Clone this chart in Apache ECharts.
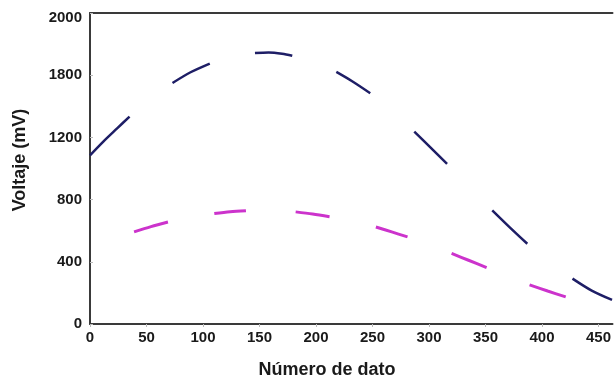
<!DOCTYPE html>
<html>
<head>
<meta charset="utf-8">
<script src="https://cdn.jsdelivr.net/npm/echarts@6/dist/echarts.min.js"></script>
<style>
  html, body { margin: 0; padding: 0; background: #fff; }
  #chart { width: 614px; height: 379px; }
</style>
</head>
<body>
<div id="chart"></div>
<script>
// Sampled bursts of the two voltage signals: [data number, voltage in mV]
const signalA = [
  [[0, 1085], [12, 1175], [24, 1258], [35, 1334]],
  [[73, 1550], [89, 1619], [106, 1675]],
  [[146, 1742], [158, 1746], [170, 1738], [179, 1725]],
  [[218, 1621], [232, 1561], [248, 1484]],
  [[287, 1237], [301, 1137], [316, 1030]],
  [[356, 731], [371, 625], [387, 516]],
  [[427, 292], [444, 215], [462, 155]]
];
const signalB = [
  [[39, 592], [54, 626], [69, 656]],
  [[110, 710], [124, 722], [138, 729]],
  [[182, 721], [197, 707], [212, 690]],
  [[253, 624], [267, 592], [281, 560]],
  [[320, 454], [335, 410], [351, 363]],
  [[389, 252], [405, 212], [421, 174]]
];

// Axis tick values and the text printed at each of them
const yTickValues = [0, 400, 800, 1200, 1600, 2000];
const yTickLabels = ['0', '400', '800', '1200', '1800', '2000'];
const xTickValues = [0, 50, 100, 150, 200, 250, 300, 350, 400, 450];
const xMax = 462.4;

const xTitle = 'Número de dato';
const yTitle = 'Voltaje (mV)';

// Join bursts into one series, leaving an empty point between bursts
function joinBursts(bursts) {
  const out = [];
  bursts.forEach(function (b, i) {
    if (i > 0) out.push([(bursts[i - 1][bursts[i - 1].length - 1][0] + b[0][0]) / 2, null]);
    b.forEach(function (p) { out.push(p); });
  });
  return out;
}

const chart = echarts.init(document.getElementById('chart'), null, { renderer: 'canvas' });
const labelFont = { fontFamily: 'Liberation Sans, Arial, sans-serif', fontWeight: 'bold', fontSize: 15, color: '#1a1a1a' };
const frameLine = { color: '#3a3a3a', width: 2 };

chart.setOption({
  backgroundColor: '#ffffff',
  animation: false,
  grid: { left: 90, top: 13, bottom: 55, right: 0, show: false },
  xAxis: [
    {
      type: 'value', min: 0, max: xMax,
      axisLine: { show: true, onZero: false, lineStyle: frameLine },
      axisTick: { show: true, inside: false, length: 3, customValues: xTickValues, lineStyle: { color: '#bbbbbb' } },
      splitLine: { show: false },
      axisLabel: Object.assign({ margin: 6, customValues: xTickValues, formatter: function (v) { return String(v); } }, labelFont)
    },
    {
      // top edge of the frame
      type: 'value', position: 'top', min: 0, max: xMax,
      axisLine: { show: true, onZero: false, lineStyle: frameLine },
      axisTick: { show: false }, axisLabel: { show: false }, splitLine: { show: false }
    }
  ],
  yAxis: {
    type: 'value', min: 0, max: 2000, interval: 400,
    axisLine: { show: true, onZero: false, lineStyle: frameLine },
    axisTick: { show: true, inside: true, length: 3, lineStyle: { color: '#bbbbbb' } },
    splitLine: { show: false },
    axisLabel: Object.assign({
      margin: 8,
      formatter: function (v) {
        const i = yTickValues.indexOf(v);
        if (i < 0) return '';
        return i === yTickValues.length - 1 ? '{top|' + yTickLabels[i] + '}' : yTickLabels[i];
      },
      rich: { top: Object.assign({ padding: [9, 0, 0, 0] }, labelFont) }
    }, labelFont)
  },
  graphic: [
    {
      type: 'text', x: 327, y: 370,
      style: { text: xTitle, font: 'bold 18px "Liberation Sans", Arial, sans-serif', fill: '#1a1a1a', align: 'center', verticalAlign: 'middle' }
    },
    {
      type: 'text', x: 20, y: 160, rotation: Math.PI / 2,
      style: { text: yTitle, font: 'bold 18px "Liberation Sans", Arial, sans-serif', fill: '#1a1a1a', align: 'center', verticalAlign: 'middle' }
    }
  ],
  series: [
    {
      name: 'A', type: 'line', data: joinBursts(signalA), smooth: 0.3, connectNulls: false,
      showSymbol: false, symbol: 'none',
      lineStyle: { color: '#1e1e66', width: 2.5 }
    },
    {
      name: 'B', type: 'line', data: joinBursts(signalB), smooth: 0.3, connectNulls: false,
      showSymbol: false, symbol: 'none',
      lineStyle: { color: '#cc33cc', width: 3 }
    }
  ]
});
</script>
</body>
</html>
